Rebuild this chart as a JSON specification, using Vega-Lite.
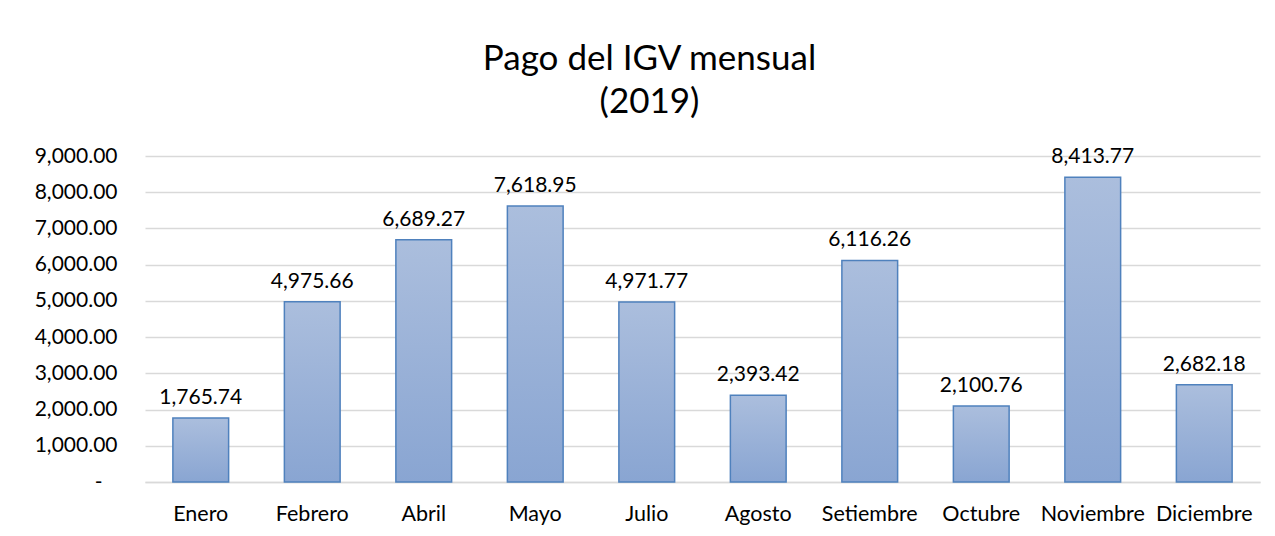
{
  "$schema": "https://vega.github.io/schema/vega-lite/v6.json",
  "autosize": {"type": "none"},
  "width": 1115,
  "height": 326,
  "padding": {"left": 145, "top": 156, "right": 15, "bottom": 54},
  "background": "white",
  "title": {
    "text": ["Pago del IGV mensual", "(2019)"],
    "font": "Lato",
    "fontSize": 35,
    "fontWeight": "normal",
    "color": "#000000",
    "anchor": "middle",
    "dx": -53,
    "offset": 25,
    "lineHeight": 43
  },
  "data": {
    "values": [
      {"mes": "Enero", "igv": 1765.74},
      {"mes": "Febrero", "igv": 4975.66},
      {"mes": "Abril", "igv": 6689.27},
      {"mes": "Mayo", "igv": 7618.95},
      {"mes": "Julio", "igv": 4971.77},
      {"mes": "Agosto", "igv": 2393.42},
      {"mes": "Setiembre", "igv": 6116.26},
      {"mes": "Octubre", "igv": 2100.76},
      {"mes": "Noviembre", "igv": 8413.77},
      {"mes": "Diciembre", "igv": 2682.18}
    ]
  },
  "encoding": {
    "x": {
      "field": "mes",
      "type": "nominal",
      "sort": null,
      "scale": {"paddingInner": 0.5, "paddingOuter": 0.25},
      "axis": {
        "title": null,
        "labelAngle": 0,
        "labelFont": "Lato",
        "labelFontSize": 21.5,
        "labelColor": "#000000",
        "labelPadding": 21,
        "ticks": false,
        "domainColor": "#d9d9d9",
        "domainWidth": 1.5
      }
    },
    "y": {
      "field": "igv",
      "type": "quantitative",
      "scale": {"domain": [0, 9000], "nice": false},
      "axis": {
        "title": null,
        "values": [0, 1000, 2000, 3000, 4000, 5000, 6000, 7000, 8000, 9000],
        "labelExpr": "datum.value == 0 ? '-\u2800' : format(datum.value, ',.2f')",
        "labelFont": "Lato",
        "labelFontSize": 21,
        "labelColor": "#000000",
        "labelPadding": 28,
        "ticks": false,
        "domain": false,
        "gridColor": "#d9d9d9",
        "gridWidth": 1.5
      }
    }
  },
  "layer": [
    {
      "mark": {
        "type": "bar",
        "color": {
          "gradient": "linear",
          "x1": 0, "y1": 0, "x2": 0, "y2": 1,
          "stops": [
            {"offset": 0, "color": "#abbedd"},
            {"offset": 1, "color": "#89a5d2"}
          ]
        },
        "stroke": "#4f81bd",
        "strokeWidth": 1.5
      }
    },
    {
      "mark": {
        "type": "text",
        "baseline": "bottom",
        "dy": -10,
        "font": "Lato",
        "fontSize": 21,
        "color": "#000000"
      },
      "encoding": {
        "text": {"field": "igv", "type": "quantitative", "format": ",.2f"}
      }
    }
  ],
  "config": {
    "view": {"stroke": null}
  }
}
